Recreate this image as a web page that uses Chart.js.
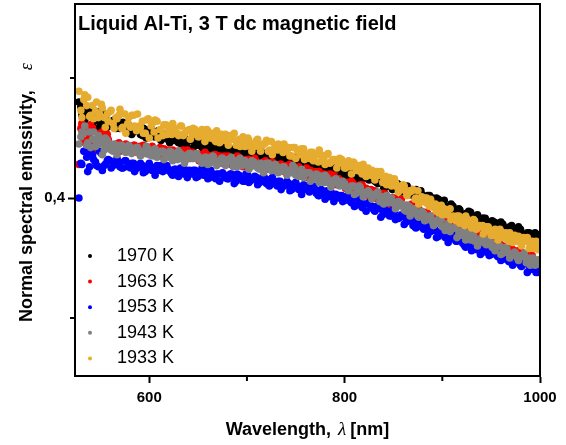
<!DOCTYPE html>
<html><head><meta charset="utf-8">
<script src="https://cdn.jsdelivr.net/npm/chart.js@4"></script>
<style>html,body{margin:0;padding:0;background:#fff}#wrap{width:566px;height:445px}</style>
</head><body><div id="wrap"><canvas id="c" width="566" height="445"></canvas></div>
<script>
const wavelengthA=[528,531,534,537,540,543,546,549,552,555,558,561,564,567,570,573,576,579,582,585,588,591,594,597,600,603,606,609,612,615,618,621,624,627,630,633,636,639,642,645,648,651,654,657,660,663,666,669,672,675,678,681,684,687,690,693,696,699,702,705,708,711,714,717,720,723,726,729,732,735,738,741,744,747,750,753,756,759,762,765,768,771,774,777,780,783,786,789,792,795,798,801,804,807,810,813,816,819,822,825,828,831,834,837,840,843,846,849,852,855,858,861,864,867,870,873,876,879,882,885,888,891,894,897,900,903,906,909,912,915,918,921,924,927,930,933,936,939,942,945,948,951,954,957,960,963,966,969,972,975,978,981,984,987,990,993,996,999];
const wavelengthB=[530,533,536,539,542,545,548,551,554,557,560,563,566,569,572,575,578,581,584,587,590,593,596,599,602,605,608,611,614,617,620,623,626,629,632,635,638,641,644,647,650,653,656,659,662,665,668,671,674,677,680,683,686,689,692,695,698,701,704,707,710,713,716,719,722,725,728,731,734,737,740,743,746,749,752,755,758,761,764,767,770,773,776,779,782,785,788,791,794,797,800,803,806,809,812,815,818,821,824,827,830,833,836,839,842,845,848,851,854,857,860,863,866,869,872,875,878,881,884,887,890,893,896,899,902,905,908,911,914,917,920,923,926,929,932,935,938,941,944,947,950,953,956,959,962,965,968,971,974,977,980,983,986,989,992,995,998];

const e1970=[0.480,0.469,0.465,0.474,0.460,0.470,0.472,0.459,0.465,0.468,0.460,0.464,0.465,0.460,0.458,0.463,0.459,0.459,0.453,0.458,0.457,0.453,0.458,0.450,0.456,0.453,0.451,0.456,0.448,0.450,0.452,0.446,0.450,0.453,0.446,0.445,0.450,0.447,0.448,0.442,0.445,0.448,0.442,0.444,0.448,0.441,0.438,0.444,0.443,0.440,0.444,0.439,0.437,0.441,0.435,0.439,0.441,0.435,0.437,0.439,0.433,0.438,0.440,0.434,0.433,0.438,0.434,0.435,0.429,0.435,0.434,0.430,0.435,0.427,0.433,0.430,0.428,0.433,0.426,0.427,0.429,0.423,0.427,0.430,0.423,0.421,0.427,0.423,0.425,0.418,0.420,0.424,0.417,0.420,0.423,0.416,0.414,0.419,0.419,0.415,0.419,0.414,0.412,0.415,0.408,0.413,0.414,0.407,0.410,0.411,0.405,0.409,0.410,0.404,0.402,0.407,0.403,0.403,0.397,0.402,0.400,0.396,0.400,0.392,0.397,0.393,0.390,0.395,0.387,0.388,0.390,0.382,0.387,0.389,0.382,0.381,0.386,0.382,0.383,0.376,0.378,0.381,0.375,0.377,0.380,0.374,0.371,0.376,0.375,0.371,0.376,0.370,0.368,0.371,0.365,0.369,0.370,0.363];
const e1970b=[0.476,0.467,0.471,0.472,0.462,0.472,0.464,0.463,0.470,0.459,0.463,0.463,0.458,0.463,0.461,0.458,0.462,0.457,0.455,0.458,0.457,0.452,0.457,0.453,0.457,0.451,0.454,0.454,0.450,0.453,0.448,0.450,0.448,0.452,0.446,0.449,0.444,0.448,0.448,0.445,0.444,0.447,0.446,0.441,0.446,0.442,0.440,0.445,0.440,0.441,0.442,0.438,0.439,0.441,0.436,0.441,0.437,0.436,0.439,0.435,0.436,0.437,0.433,0.437,0.436,0.433,0.437,0.433,0.431,0.435,0.434,0.429,0.434,0.430,0.434,0.428,0.431,0.431,0.428,0.430,0.425,0.427,0.425,0.429,0.423,0.425,0.421,0.424,0.425,0.421,0.419,0.423,0.421,0.417,0.421,0.417,0.416,0.420,0.416,0.416,0.417,0.413,0.414,0.415,0.409,0.415,0.410,0.408,0.412,0.407,0.408,0.408,0.403,0.407,0.405,0.402,0.406,0.401,0.399,0.402,0.400,0.395,0.399,0.395,0.398,0.391,0.393,0.393,0.389,0.391,0.386,0.386,0.385,0.388,0.382,0.385,0.380,0.383,0.383,0.379,0.377,0.380,0.379,0.374,0.378,0.375,0.373,0.377,0.372,0.372,0.374,0.369,0.370,0.371,0.366,0.371,0.366];
const e1963=[0.428,0.462,0.446,0.454,0.461,0.446,0.440,0.454,0.455,0.446,0.449,0.443,0.442,0.445,0.439,0.444,0.445,0.439,0.442,0.444,0.438,0.443,0.444,0.439,0.438,0.443,0.439,0.440,0.435,0.441,0.439,0.436,0.440,0.433,0.439,0.437,0.434,0.440,0.433,0.435,0.437,0.431,0.435,0.438,0.432,0.431,0.436,0.433,0.435,0.429,0.431,0.435,0.428,0.431,0.435,0.429,0.426,0.432,0.432,0.429,0.433,0.428,0.426,0.430,0.424,0.428,0.430,0.423,0.426,0.428,0.422,0.427,0.428,0.423,0.421,0.426,0.422,0.423,0.417,0.423,0.421,0.417,0.422,0.414,0.419,0.417,0.414,0.419,0.411,0.412,0.414,0.408,0.412,0.414,0.407,0.406,0.411,0.407,0.408,0.401,0.403,0.406,0.399,0.401,0.404,0.398,0.395,0.400,0.399,0.395,0.399,0.393,0.391,0.394,0.386,0.390,0.391,0.384,0.386,0.387,0.381,0.385,0.386,0.380,0.378,0.381,0.377,0.377,0.371,0.376,0.374,0.370,0.374,0.366,0.371,0.368,0.365,0.370,0.362,0.363,0.365,0.358,0.362,0.364,0.357,0.355,0.360,0.356,0.357,0.350,0.352,0.355,0.348,0.350,0.353,0.346,0.343,0.348];
const e1963b=[0.458,0.448,0.458,0.450,0.458,0.445,0.451,0.454,0.447,0.453,0.443,0.444,0.443,0.446,0.441,0.444,0.439,0.443,0.444,0.441,0.439,0.443,0.441,0.437,0.442,0.439,0.437,0.442,0.438,0.439,0.440,0.436,0.437,0.439,0.434,0.440,0.435,0.434,0.438,0.434,0.435,0.436,0.431,0.436,0.435,0.432,0.436,0.432,0.431,0.435,0.433,0.429,0.433,0.430,0.434,0.429,0.431,0.432,0.429,0.432,0.427,0.429,0.427,0.431,0.426,0.428,0.424,0.427,0.428,0.425,0.423,0.427,0.425,0.421,0.425,0.422,0.420,0.425,0.420,0.421,0.422,0.417,0.419,0.420,0.414,0.420,0.415,0.413,0.416,0.411,0.412,0.413,0.408,0.412,0.410,0.407,0.411,0.406,0.404,0.407,0.405,0.400,0.404,0.400,0.403,0.398,0.400,0.400,0.396,0.398,0.393,0.394,0.392,0.395,0.388,0.390,0.385,0.388,0.388,0.384,0.382,0.385,0.383,0.378,0.382,0.377,0.375,0.379,0.374,0.374,0.375,0.370,0.371,0.372,0.366,0.371,0.366,0.364,0.367,0.362,0.363,0.363,0.358,0.362,0.360,0.356,0.360,0.355,0.353,0.356,0.354,0.349,0.353,0.349,0.352,0.346,0.348];
const e1953=[0.400,0.428,0.439,0.422,0.438,0.432,0.427,0.439,0.423,0.428,0.432,0.425,0.429,0.433,0.426,0.425,0.431,0.427,0.429,0.422,0.425,0.429,0.421,0.426,0.429,0.423,0.419,0.426,0.427,0.423,0.427,0.422,0.419,0.424,0.418,0.423,0.424,0.417,0.421,0.423,0.417,0.422,0.425,0.419,0.416,0.423,0.419,0.420,0.414,0.421,0.419,0.416,0.420,0.412,0.420,0.417,0.414,0.420,0.413,0.415,0.418,0.411,0.415,0.419,0.412,0.410,0.417,0.412,0.414,0.407,0.410,0.414,0.406,0.411,0.413,0.407,0.403,0.410,0.410,0.406,0.410,0.404,0.402,0.406,0.399,0.404,0.405,0.397,0.401,0.402,0.397,0.401,0.403,0.396,0.393,0.400,0.395,0.395,0.389,0.396,0.393,0.389,0.393,0.384,0.391,0.388,0.385,0.390,0.382,0.383,0.386,0.378,0.382,0.385,0.377,0.375,0.381,0.376,0.377,0.369,0.372,0.375,0.367,0.371,0.373,0.367,0.363,0.369,0.369,0.364,0.368,0.362,0.359,0.363,0.356,0.360,0.361,0.353,0.356,0.357,0.352,0.356,0.358,0.351,0.348,0.355,0.350,0.350,0.344,0.350,0.347,0.343,0.347,0.338,0.345,0.341,0.338,0.343];
const e1953b=[0.429,0.439,0.434,0.426,0.436,0.430,0.426,0.437,0.427,0.431,0.431,0.427,0.428,0.430,0.425,0.431,0.426,0.425,0.429,0.425,0.426,0.427,0.422,0.427,0.426,0.423,0.427,0.423,0.422,0.426,0.424,0.420,0.424,0.421,0.425,0.420,0.422,0.423,0.420,0.423,0.418,0.420,0.419,0.423,0.417,0.420,0.416,0.420,0.420,0.417,0.416,0.420,0.418,0.414,0.419,0.416,0.414,0.419,0.415,0.416,0.417,0.413,0.414,0.416,0.411,0.416,0.412,0.410,0.414,0.410,0.411,0.412,0.407,0.412,0.410,0.407,0.411,0.407,0.405,0.409,0.407,0.402,0.407,0.403,0.406,0.401,0.403,0.403,0.400,0.402,0.398,0.399,0.397,0.400,0.394,0.397,0.392,0.395,0.395,0.392,0.390,0.393,0.391,0.386,0.390,0.387,0.385,0.389,0.384,0.384,0.385,0.380,0.381,0.382,0.376,0.381,0.376,0.374,0.377,0.372,0.373,0.373,0.368,0.372,0.370,0.367,0.371,0.366,0.364,0.367,0.365,0.360,0.364,0.360,0.363,0.357,0.359,0.359,0.355,0.357,0.353,0.354,0.352,0.355,0.349,0.352,0.347,0.350,0.350,0.346,0.344,0.347,0.345,0.340,0.344,0.340,0.338];
const e1943=[0.445,0.455,0.460,0.446,0.442,0.455,0.445,0.448,0.436,0.450,0.444,0.440,0.445,0.436,0.444,0.441,0.438,0.444,0.437,0.439,0.442,0.435,0.439,0.443,0.436,0.435,0.441,0.437,0.439,0.432,0.435,0.439,0.431,0.436,0.439,0.433,0.429,0.436,0.437,0.433,0.437,0.432,0.429,0.434,0.428,0.433,0.434,0.427,0.431,0.433,0.427,0.432,0.434,0.428,0.426,0.433,0.428,0.429,0.424,0.431,0.428,0.425,0.429,0.421,0.429,0.425,0.423,0.428,0.421,0.423,0.426,0.419,0.423,0.427,0.419,0.418,0.424,0.420,0.421,0.414,0.417,0.420,0.413,0.417,0.419,0.413,0.409,0.415,0.415,0.410,0.414,0.409,0.406,0.410,0.403,0.408,0.409,0.401,0.404,0.405,0.399,0.403,0.405,0.398,0.395,0.402,0.397,0.397,0.391,0.397,0.394,0.390,0.394,0.385,0.391,0.387,0.384,0.389,0.381,0.382,0.385,0.377,0.381,0.384,0.376,0.373,0.379,0.374,0.375,0.367,0.370,0.373,0.365,0.369,0.371,0.364,0.360,0.366,0.366,0.361,0.365,0.359,0.356,0.360,0.353,0.357,0.358,0.350,0.353,0.354,0.348,0.352,0.354,0.347,0.344,0.350,0.345,0.345];
const e1943b=[0.451,0.454,0.444,0.455,0.449,0.443,0.452,0.445,0.440,0.448,0.444,0.439,0.444,0.440,0.444,0.439,0.441,0.442,0.439,0.442,0.437,0.439,0.437,0.441,0.436,0.439,0.434,0.438,0.439,0.436,0.434,0.438,0.436,0.432,0.437,0.434,0.432,0.437,0.433,0.434,0.435,0.431,0.432,0.434,0.429,0.435,0.430,0.429,0.433,0.429,0.430,0.431,0.426,0.431,0.430,0.427,0.431,0.427,0.426,0.430,0.428,0.424,0.428,0.425,0.429,0.423,0.426,0.426,0.423,0.426,0.421,0.423,0.421,0.425,0.419,0.422,0.417,0.421,0.421,0.418,0.416,0.419,0.418,0.413,0.417,0.414,0.412,0.416,0.411,0.411,0.412,0.408,0.409,0.410,0.404,0.410,0.405,0.403,0.406,0.401,0.402,0.402,0.397,0.401,0.399,0.396,0.400,0.395,0.393,0.396,0.394,0.389,0.393,0.389,0.391,0.385,0.387,0.387,0.383,0.385,0.380,0.381,0.379,0.382,0.376,0.377,0.372,0.375,0.375,0.371,0.369,0.372,0.370,0.365,0.369,0.365,0.363,0.367,0.362,0.362,0.363,0.358,0.359,0.360,0.354,0.359,0.354,0.352,0.355,0.350,0.351,0.351,0.346,0.350,0.348,0.344,0.348];
const e1933=[0.489,0.467,0.486,0.484,0.469,0.466,0.480,0.470,0.475,0.459,0.464,0.473,0.458,0.466,0.474,0.459,0.454,0.467,0.469,0.460,0.470,0.459,0.454,0.465,0.450,0.462,0.465,0.450,0.457,0.461,0.453,0.459,0.462,0.454,0.452,0.460,0.454,0.456,0.449,0.458,0.455,0.451,0.457,0.447,0.456,0.453,0.449,0.456,0.446,0.449,0.453,0.444,0.449,0.454,0.445,0.443,0.451,0.445,0.448,0.439,0.443,0.449,0.439,0.445,0.448,0.440,0.436,0.444,0.445,0.440,0.445,0.439,0.435,0.442,0.433,0.440,0.441,0.432,0.436,0.438,0.431,0.436,0.440,0.431,0.428,0.437,0.430,0.431,0.425,0.433,0.429,0.425,0.431,0.420,0.429,0.426,0.422,0.428,0.418,0.420,0.423,0.415,0.419,0.422,0.414,0.411,0.417,0.412,0.413,0.405,0.407,0.410,0.402,0.405,0.407,0.400,0.395,0.401,0.400,0.395,0.399,0.392,0.389,0.393,0.386,0.389,0.390,0.382,0.384,0.385,0.379,0.383,0.385,0.378,0.375,0.381,0.376,0.376,0.370,0.376,0.373,0.369,0.374,0.365,0.372,0.369,0.366,0.371,0.363,0.365,0.368,0.360,0.364,0.367,0.360,0.358,0.364,0.359];
const e1933b=[0.473,0.482,0.477,0.468,0.477,0.472,0.467,0.478,0.467,0.470,0.472,0.462,0.467,0.469,0.458,0.470,0.462,0.459,0.469,0.456,0.460,0.464,0.454,0.466,0.460,0.455,0.464,0.457,0.452,0.461,0.458,0.453,0.458,0.454,0.460,0.452,0.456,0.457,0.453,0.457,0.451,0.454,0.452,0.457,0.450,0.454,0.447,0.452,0.453,0.448,0.447,0.452,0.449,0.444,0.449,0.446,0.443,0.450,0.443,0.445,0.448,0.443,0.444,0.446,0.439,0.447,0.441,0.440,0.444,0.438,0.440,0.442,0.435,0.442,0.439,0.436,0.441,0.436,0.433,0.438,0.436,0.430,0.436,0.431,0.436,0.429,0.432,0.432,0.429,0.432,0.425,0.428,0.426,0.430,0.423,0.427,0.420,0.424,0.425,0.419,0.418,0.422,0.419,0.413,0.418,0.413,0.410,0.416,0.409,0.410,0.411,0.405,0.406,0.406,0.399,0.406,0.399,0.397,0.400,0.393,0.395,0.395,0.388,0.394,0.391,0.386,0.391,0.385,0.381,0.385,0.383,0.377,0.382,0.377,0.382,0.374,0.377,0.377,0.373,0.376,0.369,0.371,0.370,0.374,0.367,0.371,0.364,0.368,0.369,0.364,0.363,0.367,0.364,0.358,0.364,0.360,0.357];

const seriesLabels=['1970 K','1963 K','1953 K','1943 K','1933 K'];
const seriesValuesA=[e1970,e1963,e1953,e1943,e1933];
const seriesValuesB=[e1970b,e1963b,e1953b,e1943b,e1933b];
const seriesColors=['#000000','#ff0000','#0000ff','#808080','#e6ac30'];
const xTicks=[600,700,800,900,1000];
const xTickLabels=['600','','800','','1000'];
const yTicks=[0.3,0.4,0.5];
const yTickLabels=['','0,4',''];
const titleText='Liquid Al-Ti, 3 T dc magnetic field';
const xTitleParts=['Wavelength,','\u03bb','[nm]'];
const yTitleParts=['Normal spectral emissivity,','\u03b5'];

const SANS='"Liberation Sans", Arial, sans-serif';
const SERIF='"Liberation Serif", "Times New Roman", serif';

const datasets=seriesLabels.map((lab,i)=>{
  const pts=[];
  wavelengthA.forEach((w,j)=>{pts.push({x:w,y:seriesValuesA[i][j]});});
  wavelengthB.forEach((w,j)=>{pts.push({x:w,y:seriesValuesB[i][j]});});
  pts.sort((p,q)=>p.x-q.x);
  return {label:lab,data:pts,backgroundColor:seriesColors[i],borderWidth:0,
    pointRadius:3.8,pointHoverRadius:3.8,order:seriesLabels.length-i};
});

const decor={
  id:'decor',
  afterDraw(chart){
    const {ctx,chartArea:a,scales}=chart;
    ctx.save();
    ctx.strokeStyle='#000';ctx.lineWidth=2;
    ctx.strokeRect(a.left,a.top,a.right-a.left,a.bottom-a.top);
    ctx.beginPath();
    xTicks.forEach((v,i)=>{ if(!xTickLabels[i]){const p=scales.x.getPixelForValue(v);ctx.moveTo(p,a.bottom);ctx.lineTo(p,a.bottom+5);} });
    yTicks.forEach((v,i)=>{ if(!yTickLabels[i]){const p=scales.y.getPixelForValue(v);ctx.moveTo(a.left,p);ctx.lineTo(a.left-5,p);} });
    ctx.stroke();
    ctx.fillStyle='#000';
    ctx.font='bold 20px '+SANS;ctx.textAlign='left';ctx.textBaseline='alphabetic';
    ctx.fillText(titleText,a.left+3,a.top+26);
    const lx=a.left+15, tx=a.left+42, ly0=256, dy=25.6;
    ctx.font='18px '+SANS;ctx.textBaseline='middle';
    seriesLabels.forEach((l,i)=>{
      const y=ly0+i*dy;
      ctx.fillStyle=seriesColors[i];
      ctx.beginPath();ctx.arc(lx,y,2,0,Math.PI*2);ctx.fill();
      ctx.fillStyle='#000';
      ctx.fillText(l,tx,y);
    });
    ctx.textBaseline='alphabetic';
    ctx.font='bold 18px '+SANS;
    const w0=ctx.measureText(xTitleParts[0]).width;
    const w2=ctx.measureText(xTitleParts[2]).width;
    ctx.font='italic 19px '+SERIF;
    const w1=ctx.measureText(xTitleParts[1]).width;
    const total=w0+7+w1+4+w2;
    let x=(a.left+a.right)/2-total/2;
    const yb=435;
    ctx.font='bold 18px '+SANS;ctx.fillText(xTitleParts[0],x,yb);
    x+=w0+7;
    ctx.font='italic 19px '+SERIF;ctx.fillText(xTitleParts[1],x,yb);
    x+=w1+4;
    ctx.font='bold 18px '+SANS;ctx.fillText(xTitleParts[2],x,yb);
    ctx.translate(32,322);ctx.rotate(-Math.PI/2);
    ctx.font='bold 18px '+SANS;
    ctx.fillText(yTitleParts[0],0,0);
    const wy=ctx.measureText(yTitleParts[0]).width;
    ctx.font='italic 18px '+SERIF;
    ctx.fillText(yTitleParts[1],wy+20,0);
    ctx.restore();
  }
};

new Chart(document.getElementById('c'),{
  type:'scatter',
  data:{datasets},
  options:{
    responsive:false,animation:false,devicePixelRatio:1,
    layout:{padding:{top:4,right:26,left:0,bottom:0}},
    plugins:{legend:{display:false},tooltip:{enabled:false}},
    events:[],
    scales:{
      x:{type:'linear',min:524,max:1000,
        afterBuildTicks:s=>{s.ticks=xTicks.map(v=>({value:v}));},
        afterFit:s=>{s.height=69;s.paddingLeft=0;s.paddingRight=0;},
        ticks:{callback:(v)=>{const i=xTicks.indexOf(v);return i>=0?xTickLabels[i]:'';},font:{family:SANS,size:15,weight:'bold'},color:'#000',padding:6,maxRotation:0,autoSkip:false},
        grid:{drawOnChartArea:false,drawTicks:true,tickLength:7,tickWidth:2,tickColor:c=>(c.index!==undefined&&xTickLabels[c.index])?'#000':'rgba(0,0,0,0)'},
        border:{display:true,color:'#000',width:2}
      },
      y:{type:'linear',min:0.25167,max:0.56167,
        afterBuildTicks:s=>{s.ticks=yTicks.map(v=>({value:v}));},
        afterFit:s=>{s.width=75;s.paddingTop=0;s.paddingBottom=0;},
        ticks:{callback:(v)=>{const i=yTicks.indexOf(v);return i>=0?yTickLabels[i]:'';},font:{family:SANS,size:15,weight:'bold'},color:'#000',padding:3,autoSkip:false},
        grid:{drawOnChartArea:false,drawTicks:true,tickLength:7,tickWidth:2,tickColor:c=>(c.index!==undefined&&yTickLabels[c.index])?'#000':'rgba(0,0,0,0)'},
        border:{display:true,color:'#000',width:2}
      }
    }
  },
  plugins:[decor]
});
</script></body></html>
